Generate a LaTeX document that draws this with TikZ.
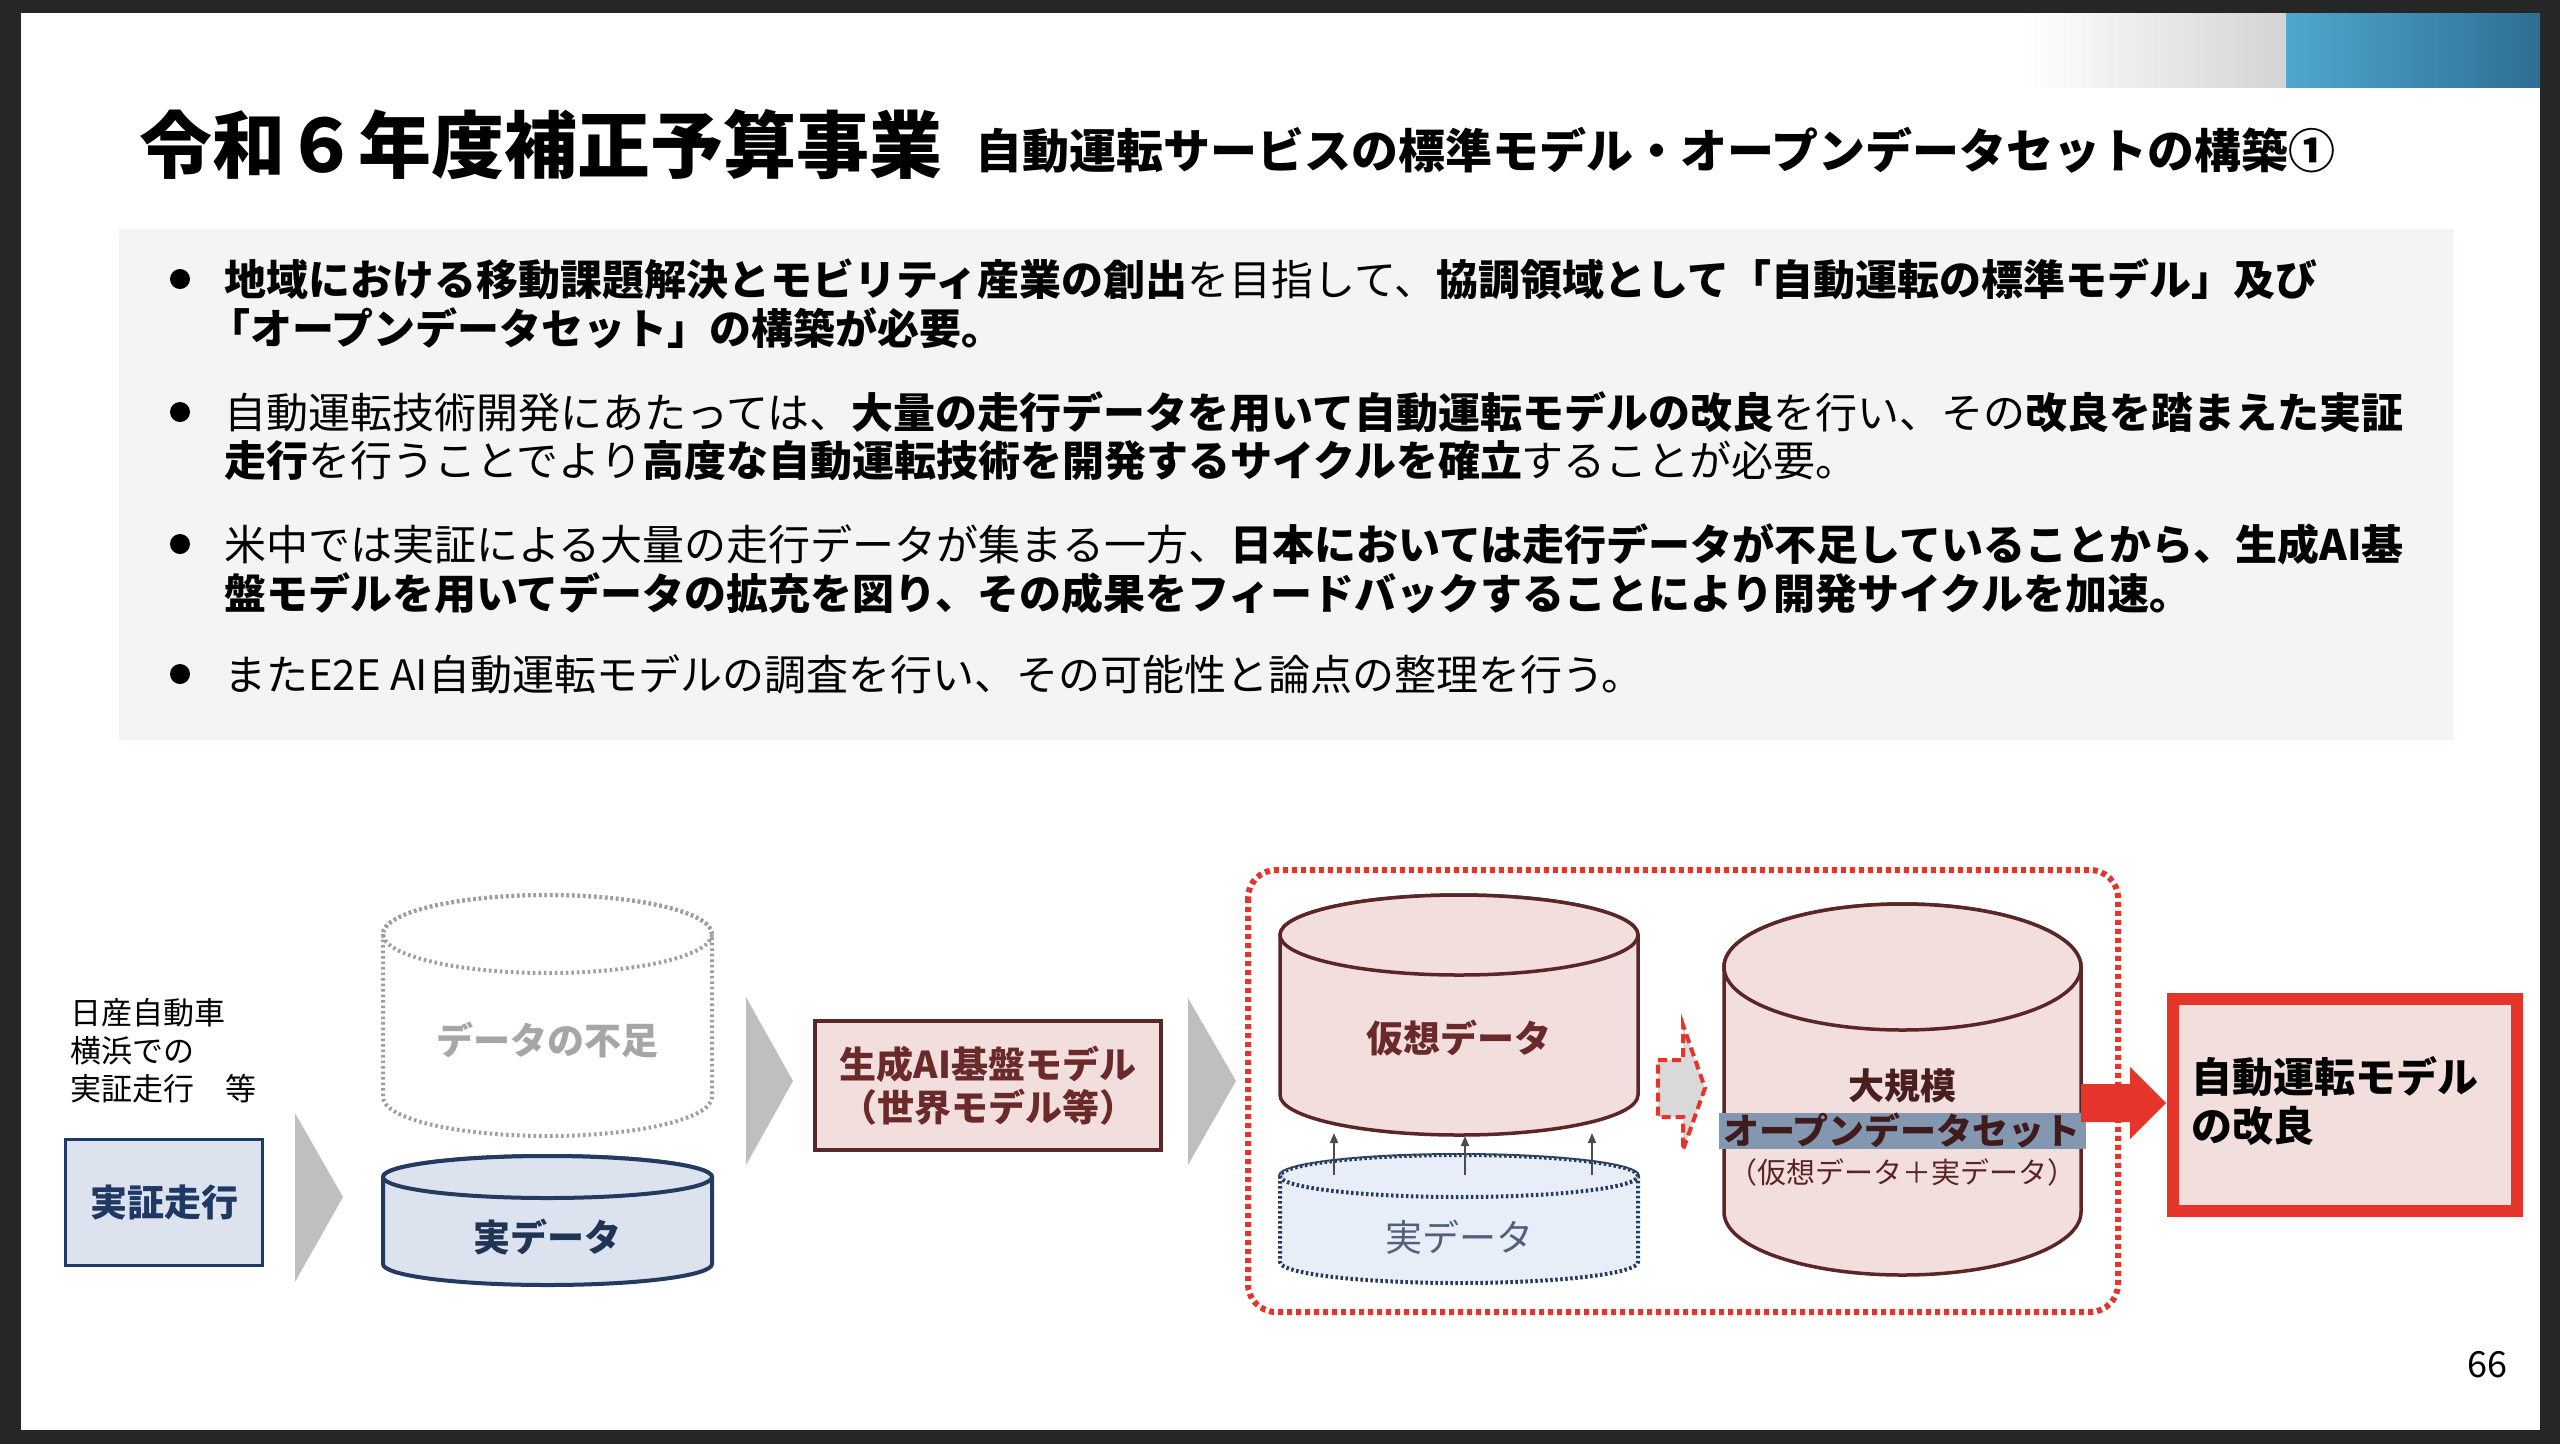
\documentclass[tikz,border=0pt]{standalone}
\usepackage{fontspec}
\setmainfont{Noto Sans CJK JP}
\usetikzlibrary{arrows.meta}
\definecolor{framec}{HTML}{262626}
\definecolor{boxgray}{HTML}{F3F4F4}
\definecolor{blueL}{HTML}{4FA7CD}
\definecolor{blueR}{HTML}{2D6F93}
\definecolor{navy}{HTML}{1F3864}
\definecolor{navyline}{HTML}{243A5E}
\definecolor{blueF}{HTML}{DCE3EF}
\definecolor{blueF2}{HTML}{E8EEF8}
\definecolor{pinkF}{HTML}{F2DEDD}
\definecolor{brownL}{HTML}{5A2626}
\definecolor{brownT}{HTML}{6B2A2A}
\definecolor{redC}{HTML}{E5352B}
\definecolor{chev}{HTML}{BFBFBF}
\definecolor{hilite}{HTML}{8497B0}
\newcommand\fsz[1]{\fontsize{#1}{#1}\selectfont}
\newcommand\bd[1]{\textbf{#1}}
% cylinder: xl, xr, ytop, ybottom, ry, style
\newcommand\cylshape[6]{%
  \path[#6] (#1,-#3-#5) -- (#1,-#4+#5)
    arc[start angle=180,end angle=360,x radius={(#2-#1)/2},y radius=#5]
    -- (#2,-#3-#5)
    arc[start angle=0,end angle=180,x radius={(#2-#1)/2},y radius=#5] -- cycle;
  \path[#6] ({(#1+#2)/2},-#3-#5) ellipse[x radius={(#2-#1)/2},y radius=#5];
}
\begin{document}
\begin{tikzpicture}[x=1pt,y=1pt,
  txt/.style={inner sep=0pt,anchor=base west},
  ctr/.style={inner sep=0pt,anchor=center,align=center},
  bline/.style={txt,font=\fsz{42}},
  chevron/.style={fill=chev,draw=none},
  uparrow/.style={draw=gray!60!black,line width=1.8pt,-{Triangle[length=10pt,width=8pt]}}]
\useasboundingbox (0,0) rectangle (2560,-1444);
\fill[framec] (0,0) rectangle (2560,-1444);
\fill[white] (21,-13) rectangle (2540,-1430);
\shade[left color=white,right color=black!17] (2024,-13) rectangle (2286,-87);
\shade[left color=blueL,right color=blueR] (2286,-13) rectangle (2540,-87);

% title
\node[txt,font=\fsz{73}\bfseries] (title) at (139,-172) {令和６年度補正予算事業};
\node[txt,font=\fsz{47}\bfseries] (subtitle) at (975,-168) {自動運転サービスの標準モデル・オープンデータセットの構築①};

% bullet box
\fill[boxgray] (119,-229) rectangle (2454,-740);
\foreach \yy/\nm in {279/b1,412/b2,544/b3,674/b4}
  \node[circle,fill=black,inner sep=0pt,minimum size=20pt] (\nm) at (180,-\yy) {};
\node[bline] (l1) at (224,-295) {\bd{地域における移動課題解決とモビリティ産業の創出}を目指して、\bd{協調領域として「自動運転の標準モデル」及び}};
\node[bline] (l2) at (208,-344) {\bd{「オープンデータセット」の構築が必要。}};
\node[bline] (l3) at (224,-428) {自動運転技術開発にあたっては、\bd{大量の走行データを用いて自動運転モデルの改良}を行い、その\bd{改良を踏まえた実証}};
\node[bline] (l4) at (224,-476) {\bd{走行}を行うことでより\bd{高度な自動運転技術を開発するサイクルを確立}することが必要。};
\node[bline] (l5) at (224,-560) {米中では実証による大量の走行データが集まる一方、\bd{日本においては走行データが不足していることから、生成AI基}};
\node[bline] (l6) at (224,-609) {\bd{盤モデルを用いてデータの拡充を図り、その成果をフィードバックすることにより開発サイクルを加速。}};
\node[bline] (l7) at (224,-690) {またE2E AI自動運転モデルの調査を行い、その可能性と論点の整理を行う。};

% left text
\node[txt,font=\fsz{31}] (n1) at (70,-1024) {日産自動車};
\node[txt,font=\fsz{31}] (n2) at (70,-1062) {横浜での};
\node[txt,font=\fsz{31}] (n3) at (70,-1100) {実証走行　等};

% 実証走行 box
\node[draw=navy,line width=3pt,fill=blueF,minimum width=197pt,minimum height=126pt,
      inner sep=0pt,font=\fsz{37}\bfseries,text=navy] (jissho) at (164,-1202.5) {実証走行};

% chevrons
\fill[chevron] (295,-1113) -- (343,-1197) -- (295,-1282) -- cycle;
\fill[chevron] (746,-997) -- (793,-1081) -- (746,-1165) -- cycle;
\fill[chevron] (1188,-998) -- (1236,-1081) -- (1188,-1165) -- cycle;

% cylinders left
\cylshape{383}{712}{895}{1136}{39}{draw=black!38,line width=4pt,dash pattern=on 2.5pt off 3pt}
\node[ctr,font=\fsz{37}\bfseries,text=black!35] (fusoku) at (547,-1040) {データの不足};
\cylshape{383}{712}{1156}{1285}{21}{draw=navyline,line width=4pt,fill=blueF}
\node[ctr,font=\fsz{37}\bfseries,text=navyline!90!black] (jitsu1) at (547,-1237) {実データ};

% generative AI box
\node[draw=brownL,line width=3.5pt,fill=pinkF,minimum width=346pt,minimum height=129pt,
      inner sep=0pt,align=center,font=\fsz{37}\bfseries,text=brownT] (genai) at (988,-1085.5)
      {生成AI基盤モデル\\[6pt]（世界モデル等）};

% red dotted region
\draw[redC,line width=6pt,dash pattern=on 5pt off 4pt,rounded corners=28pt] (1248,-870) rectangle (2118,-1312);

% virtual data cylinder
\cylshape{1280}{1638}{895}{1135}{40}{draw=brownL,line width=3.5pt,fill=pinkF}
\node[ctr,font=\fsz{37}\bfseries,text=brownT] (kaso) at (1459,-1038) {仮想データ};
% real data dotted cylinder
\cylshape{1280}{1638}{1155}{1283}{21}{draw=navyline,line width=4pt,dash pattern=on 2.5pt off 2.5pt,fill=blueF2}
\node[ctr,font=\fsz{37},text=navyline!80] (jitsu2) at (1459,-1237) {実データ};
\coordinate (ua1) at (1334,-1175); \coordinate (ub1) at (1334,-1133);
\coordinate (ua2) at (1465,-1175); \coordinate (ub2) at (1465,-1136);
\coordinate (ua3) at (1592,-1175); \coordinate (ub3) at (1592,-1133);
\draw[uparrow] (ua1) -- (ub1);
\draw[uparrow] (ua2) -- (ub2);
\draw[uparrow] (ua3) -- (ub3);

% small dashed arrow
\draw[fill=black!15,draw=redC,line width=4pt,dash pattern=on 9pt off 5pt,line join=miter]
  (1658,-1060) -- (1683,-1060) -- (1683,-1025) -- (1705,-1088) -- (1683,-1150) -- (1683,-1117) -- (1658,-1117) -- cycle;

% big cylinder
\cylshape{1724}{2081}{904}{1275}{63}{draw=brownL,line width=3.5pt,fill=pinkF}
\fill[hilite] (1719,-1113) rectangle (2086,-1149);
\node[ctr,font=\fsz{36}\bfseries,text=brownL!80!black] (daikibo) at (1902,-1086) {大規模};
\node[ctr,font=\fsz{36}\bfseries,text=brownL!70!black] (open) at (1902,-1131) {オープンデータセット};
\node[ctr,font=\fsz{29},text=brownT!85!black] (mix) at (1902,-1172) {（仮想データ＋実データ）};

% red block arrow
\fill[redC] (2081,-1084) -- (2130,-1084) -- (2130,-1067) -- (2166,-1103) -- (2130,-1139) -- (2130,-1122) -- (2081,-1122) -- cycle;

% result box
\node[draw=redC,line width=12pt,fill=pinkF,minimum width=344pt,minimum height=212pt,inner sep=0pt] (result) at (2345,-1105) {};
\node[txt,font=\fsz{41}\bfseries] (r1) at (2191,-1092) {自動運転モデル};
\node[txt,font=\fsz{41}\bfseries] (r2) at (2191,-1141) {の改良};

% page number
\node[ctr,font=\fsz{36}] (page) at (2487,-1365) {66};
\end{tikzpicture}
\end{document}
